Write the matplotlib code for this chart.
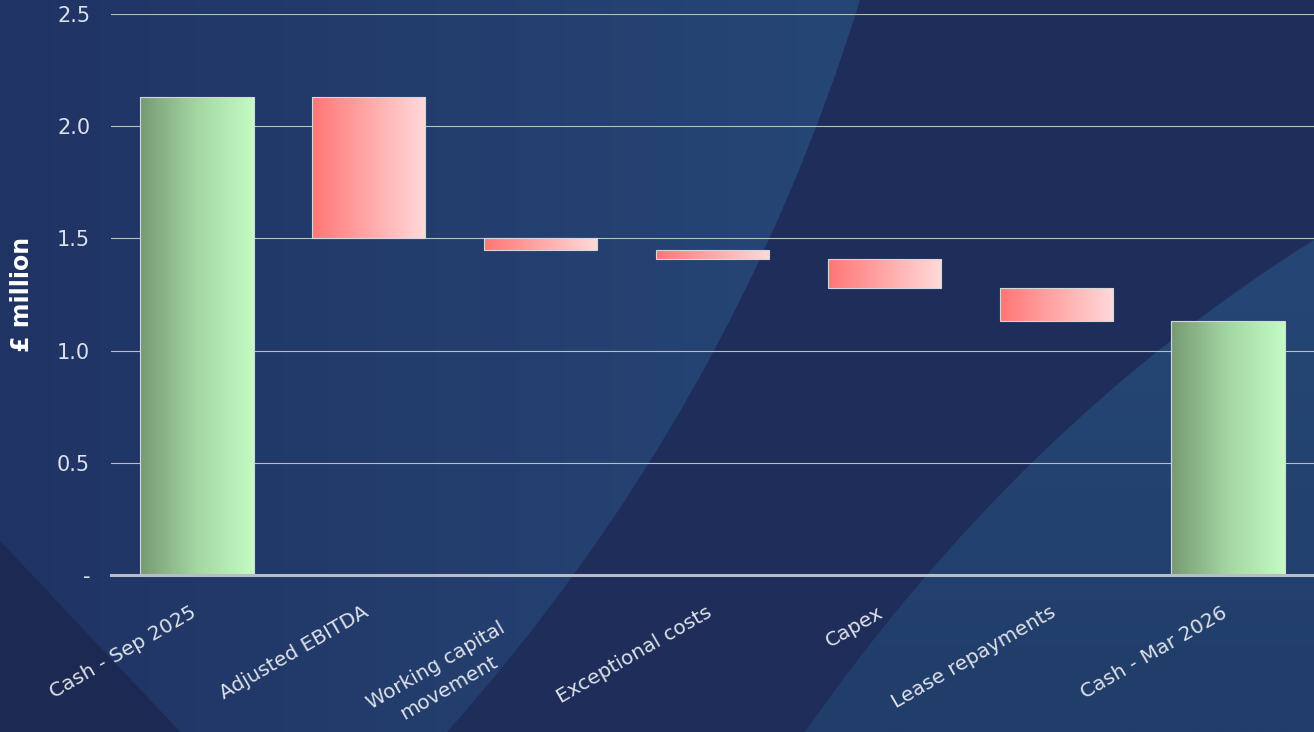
"""Cash bridge waterfall, Sep 2025 to Mar 2026, on a dark navy slide background."""

import matplotlib
matplotlib.use("Agg")
import matplotlib.pyplot as plt
import numpy as np
from matplotlib.colors import LinearSegmentedColormap
from matplotlib.path import Path
from matplotlib.patches import PathPatch
from matplotlib.transforms import ScaledTranslation

# data (£ million)
categories = ["Cash - Sep 2025", "Adjusted EBITDA", "Working capital\nmovement",
              "Exceptional costs", "Capex", "Lease repayments", "Cash - Mar 2026"]
opening_cash = 2.13
movements = [-0.63, -0.05, -0.04, -0.13, -0.15]
closing_cash = 1.13
yticks = [0.0, 0.5, 1.0, 1.5, 2.0, 2.5]
ytick_labels = ["-", "0.5", "1.0", "1.5", "2.0", "2.5"]

TEXT = "#dde1e8"
W, H = 1314, 732

fig = plt.figure(figsize=(W / 100, H / 100), dpi=100)
fig.patch.set_facecolor("#1f2d5b")

# --- background shapes (pixel coords) ---
bg = fig.add_axes([0, 0, 1, 1], zorder=-5)
bg.set_xlim(0, W)
bg.set_ylim(H, 0)
bg.axis("off")


def grad_fill(verts, codes, c0, c1, direction="x"):
    path = Path(verts, codes)
    patch = PathPatch(path, facecolor="none", edgecolor="none")
    bg.add_patch(patch)
    g = np.linspace(0, 1, 256)
    arr = g.reshape(1, -1) if direction == "x" else g.reshape(-1, 1)
    cmap = LinearSegmentedColormap.from_list("g", [c0, c1])
    im = bg.imshow(arr, extent=[0, W, H, 0], cmap=cmap, aspect="auto", zorder=1)
    im.set_clip_path(patch)


M, L, C3 = Path.MOVETO, Path.LINETO, Path.CURVE3
# big lighter wedge on the left, curved right edge
grad_fill([(0, 0), (0, 541), (180, 732), (447, 732), (733, 411), (860, 0), (0, 0)],
          [M, L, L, L, C3, C3, L], "#203464", "#29507f")
# lighter wedge bottom right
grad_fill([(805, 732), (1020, 424), (1314, 240), (1314, 732), (805, 732)],
          [M, C3, C3, L, L], "#284c7b", "#213d6a", direction="y")
# darker corner bottom left
bg.add_patch(PathPatch(Path([(0, 541), (180, 732), (0, 732), (0, 541)], [M, L, L, L]),
                       facecolor="#1c2953", edgecolor="none", zorder=2))

# --- chart ---
ax = fig.add_axes([111 / W, 157 / H, 1203 / W, 561 / H])
ax.set_facecolor("none")

x = np.arange(len(categories))
levels = opening_cash + np.cumsum([0] + movements)
bottoms = [0] + list(levels[1:]) + [0]
heights = [opening_cash] + [-m for m in movements] + [closing_cash]
kinds = ["total"] + ["move"] * len(movements) + ["total"]

green = LinearSegmentedColormap.from_list("green", ["#769a74", "#a4d6a2", "#c3fbc3"])
red = LinearSegmentedColormap.from_list("red", ["#ff7676", "#ffa8a8", "#ffdada"])

bars = ax.bar(x, heights, bottom=bottoms, width=0.66, facecolor="none",
              edgecolor="#d4d6de", linewidth=0.8, zorder=4)
grad = np.linspace(0, 1, 256).reshape(1, -1)
for rect, kind in zip(bars, kinds):
    x0, y0 = rect.get_x(), rect.get_y()
    im = ax.imshow(grad, extent=[x0, x0 + rect.get_width(), y0, y0 + rect.get_height()],
                   cmap=green if kind == "total" else red, aspect="auto", zorder=3)
    im.set_clip_path(rect)

ax.set_xlim(-0.5, len(categories) - 0.5)
ax.set_ylim(0, 2.5)
ax.set_yticks(yticks)
ax.set_yticklabels(ytick_labels)
ax.grid(True, axis="y", color="#b9bdc6", linewidth=0.8, zorder=1)
ax.set_axisbelow(True)
for s in ["top", "right", "left"]:
    ax.spines[s].set_visible(False)
ax.spines["bottom"].set_color("#b8bcc6")
ax.spines["bottom"].set_linewidth(2.2)
ax.spines["bottom"].set_zorder(5)

ax.tick_params(axis="y", length=0, pad=15, labelsize=15, labelcolor=TEXT)
ax.tick_params(axis="x", length=0, pad=20, labelsize=14.5, labelcolor=TEXT)
ax.set_xticks(x)
ax.set_xticklabels(categories, rotation=30, ha="right", va="top",
                   rotation_mode="anchor", multialignment="center", linespacing=1.45)
# nudge labels left; the two-line one sits further back along its baseline
for i, lab in enumerate(ax.get_xticklabels()):
    dx, dy = (-30, -11) if i == 2 else (-5, 0)
    lab.set_transform(lab.get_transform()
                      + ScaledTranslation(dx / 72, dy / 72, fig.dpi_scale_trans))

ax.set_ylabel("£ million", color="white", fontsize=17, fontweight="bold")
ax.yaxis.set_label_coords(-0.064, 0.5)

fig.savefig("out.png", dpi=100, facecolor=fig.get_facecolor())
